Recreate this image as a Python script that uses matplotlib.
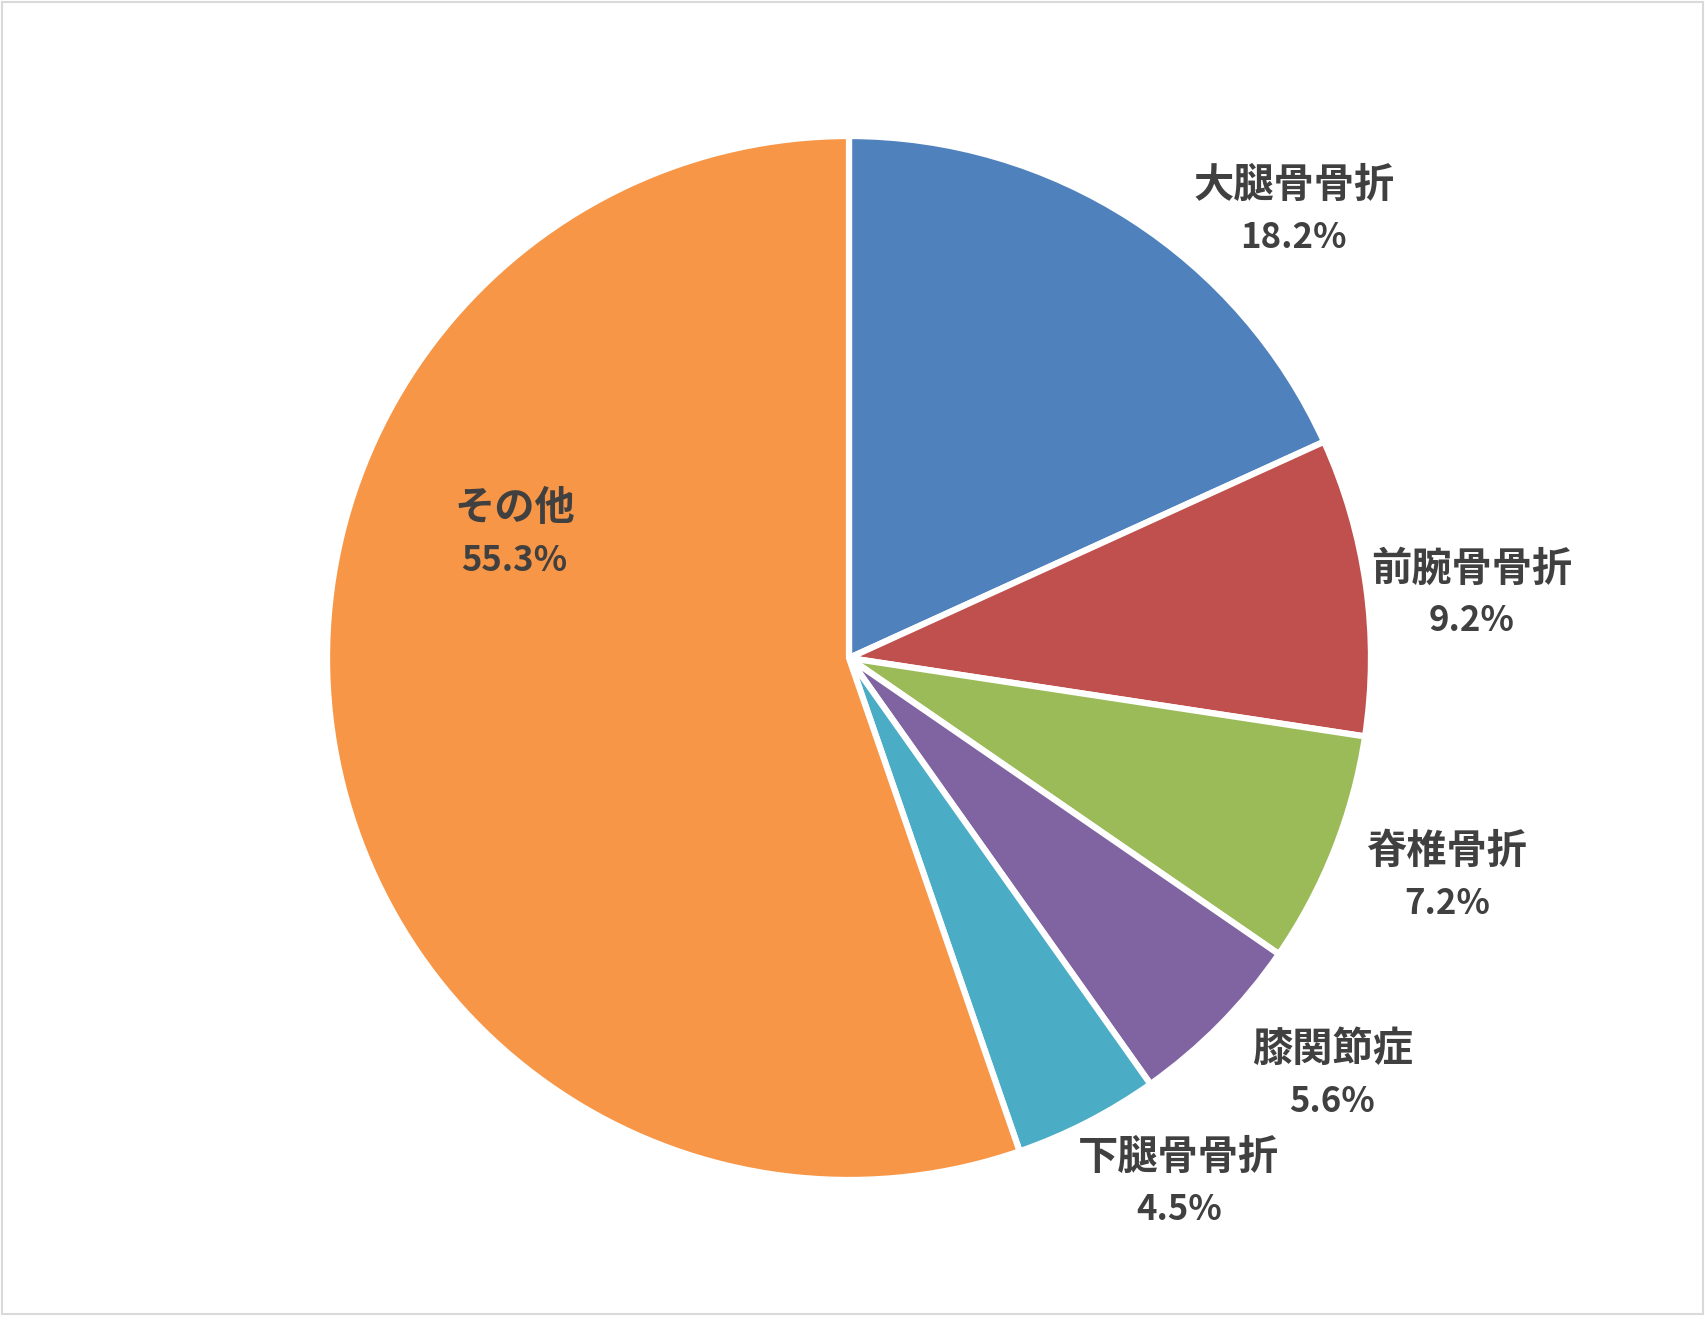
import matplotlib.pyplot as plt
from matplotlib.patches import Rectangle

# data (clockwise from 12 o'clock)
labels = ['大腿骨骨折', '前腕骨骨折', '脊椎骨折', '膝関節症', '下腿骨骨折', 'その他']
values = [18.2, 9.2, 7.2, 5.6, 4.5, 55.3]
colors = ['#4F81BD', '#C0504D', '#9BBB59', '#8064A2', '#4BACC6', '#F79646']

# label centres (in pie-radius units, relative to pie centre)
label_pos = [(0.852, 0.856), (1.193, 0.121), (1.145, -0.421),
             (0.926, -0.799), (0.632, -1.006), (-0.641, 0.236)]

plt.rcParams['font.family'] = ['Noto Sans CJK JP', 'DejaVu Sans']

W, H = 1705, 1320
fig = plt.figure(figsize=(W / 100, H / 100), dpi=100)

# pie centre and radius in pixels
cx, cy, R = 849, 658, 522
ax = fig.add_axes([(cx - R) / W, (H - cy - R) / H, 2 * R / W, 2 * R / H])

ax.pie(values, colors=colors, startangle=90, counterclock=False, radius=1.0,
       wedgeprops=dict(edgecolor='white', linewidth=4.5))
# pie() resets the limits, so set them afterwards
ax.set_xlim(-1, 1)
ax.set_ylim(-1, 1)
ax.set_aspect('equal')
ax.axis('off')

off = 26 / R
for lab, val, (x, y) in zip(labels, values, label_pos):
    ax.text(x, y + off, lab, ha='center', va='center', fontsize=29,
            fontweight='bold', color='#404040')
    ax.text(x, y - off, f'{val:.1f}%', ha='center', va='center', fontsize=25,
            fontweight='bold', color='#404040')

fig.patches.append(Rectangle((2 / W, 6 / H), 1701 / W, 1312 / H, transform=fig.transFigure,
                             fill=False, edgecolor='#D9D9D9', linewidth=1.5))

fig.savefig('out.png', dpi=100, facecolor='white')
